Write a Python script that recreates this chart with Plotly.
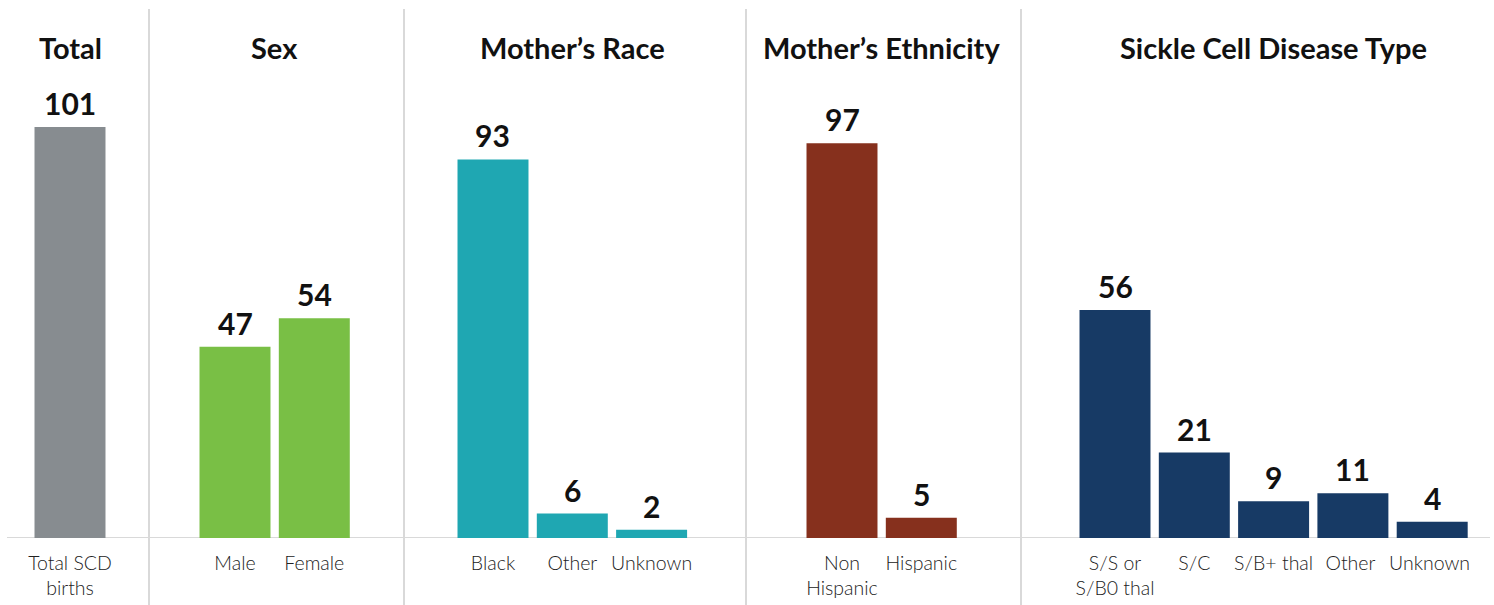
import plotly.graph_objects as go

# ---- data ----
panel_titles = ["Total", "Sex", "Mother’s Race", "Mother’s Ethnicity", "Sickle Cell Disease Type"]
total_cats = ["Total SCD<br>births"]
total_vals = [101]
sex_cats = ["Male", "Female"]
sex_vals = [47, 54]
race_cats = ["Black", "Other", "Unknown"]
race_vals = [93, 6, 2]
eth_cats = ["Non<br>Hispanic", "Hispanic"]
eth_vals = [97, 5]
scd_cats = ["S/S or<br>S/B0 thal", "S/C", "S/B+ thal", "Other ", "Unknown "]
scd_vals = [56, 21, 9, 11, 4]

colors = ["#878c90", "#79bf45", "#1fa7b2", "#86301d", "#173a65"]

W, H = 1494, 605
ML, MR, MT, MB = 0, 0, 20, 67
plot_h = H - MT - MB
slot = 79.3
bounds = [0, 149, 404, 746, 1021, 1494]
first_center = [70, 235, 493, 842, 1115]

panels = [
    (total_cats, total_vals),
    (sex_cats, sex_vals),
    (race_cats, race_vals),
    (eth_cats, eth_vals),
    (scd_cats, scd_vals),
]

fig = go.Figure()
layout_axes = {}
for i, (cats, vals) in enumerate(panels):
    ax = "x" if i == 0 else f"x{i+1}"
    axname = "xaxis" if i == 0 else f"xaxis{i+1}"
    fig.add_trace(go.Bar(
        x=cats, y=vals, xaxis=ax, yaxis="y",
        marker=dict(color=colors[i], line=dict(width=0)),
        width=0.895,
        showlegend=False, hoverinfo="x+y",
    ))
    for c, v in zip(cats, vals):
        fig.add_annotation(
            x=c, y=v, xref=ax, yref="y", text=str(v), showarrow=False,
            yanchor="bottom", yshift=4,
            font=dict(family="Lato", size=30, color="#111111", weight=700),
        )
    left, right = bounds[i], bounds[i + 1]
    width_slots = (right - left) / slot
    off = (first_center[i] - left) / slot
    layout_axes[axname] = dict(
        domain=[left / W, right / W],
        range=[-off, width_slots - off],
        type="category",
        showgrid=False, zeroline=False, showline=False,
        ticks="", ticklabelstandoff=11,
        tickfont=dict(family="Lato", size=19.5, color="#222222", weight=300),
        anchor="y", fixedrange=True,
    )
    fig.add_annotation(
        text=f"<b>{panel_titles[i]}</b>", xref="paper", yref="paper",
        x=(first_center[i] + (len(cats) - 1) * slot / 2) / W,
        y=(H - MB - 47) / plot_h, xanchor="center", yanchor="middle",
        showarrow=False, font=dict(family="Lato", size=29, color="#111111"),
    )

fig.update_layout(**layout_axes)
fig.update_layout(
    width=W, height=H,
    margin=dict(l=ML, r=MR, t=MT, b=MB),
    paper_bgcolor="white", plot_bgcolor="white",
    yaxis=dict(range=[0, plot_h / 4.07], visible=False, fixedrange=True),
    bargap=0.1,
)

fig.add_shape(type="line", xref="paper", yref="y", x0=7 / W, x1=1490 / W, y0=0, y1=0,
              line=dict(color="#d9d9d9", width=2), layer="below")
for b in bounds[1:-1]:
    fig.add_shape(type="line", xref="paper", yref="paper", x0=b / W, x1=b / W,
                  y0=(H - MB - 9) / plot_h, y1=-MB / plot_h,
                  line=dict(color="#d9d9d9", width=2), layer="below")

fig.write_html("out.html", config={"displayModeBar": False},
               post_script="document.body.style.margin='0px';document.body.style.overflow='hidden';")
